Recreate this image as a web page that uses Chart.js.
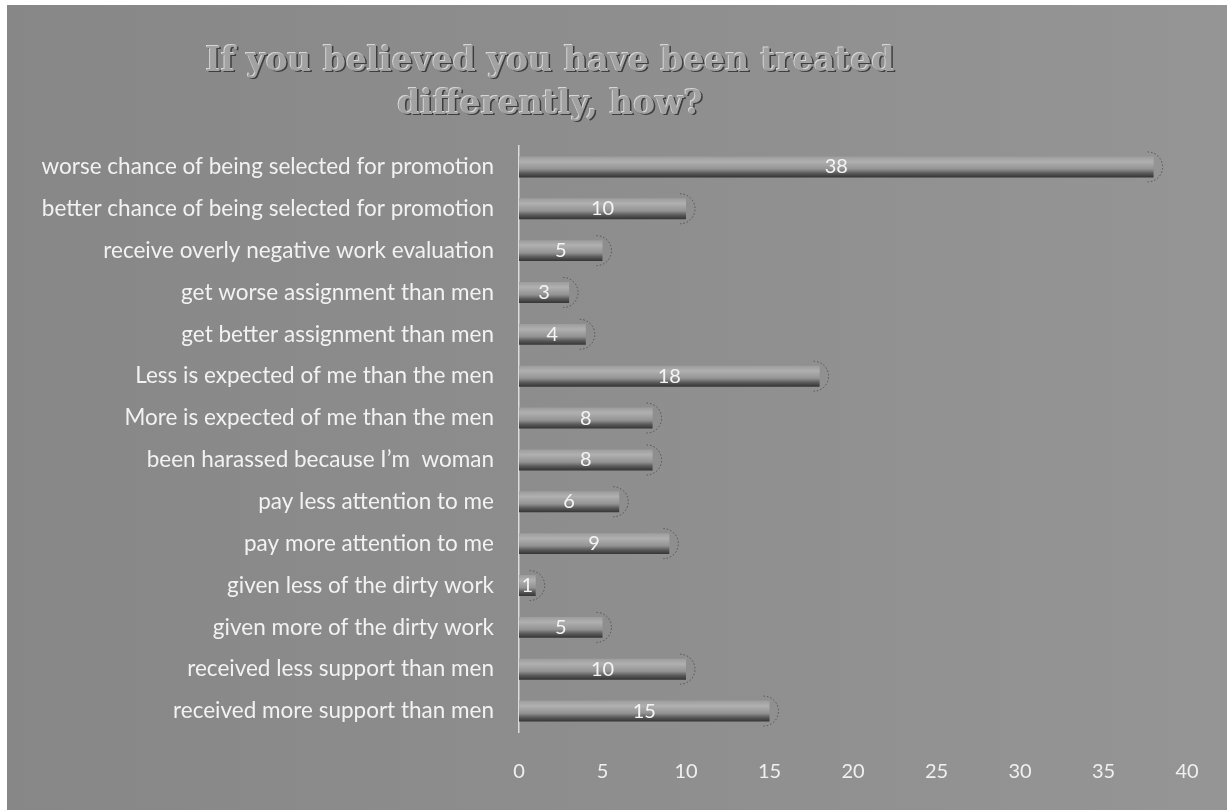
<!DOCTYPE html>
<html>
<head>
<meta charset="utf-8">
<script src="https://cdn.jsdelivr.net/npm/chart.js@4"></script>
<style>
  html, body { margin: 0; padding: 0; background: #fff; }
  #wrap { width: 1227px; height: 810px; position: relative; }
</style>
</head>
<body>
<div id="wrap"><canvas id="chart" width="1227" height="810"></canvas></div>
<script>
// chart values
const categories = [
  'worse chance of being selected for promotion',
  'better chance of being selected for promotion',
  'receive overly negative work evaluation',
  'get worse assignment than men',
  'get better assignment than men',
  'Less is expected of me than the men',
  'More is expected of me than the men',
  'been harassed because I\u2019m  woman',
  'pay less attention to me',
  'pay more attention to me',
  'given less of the dirty work',
  'given more of the dirty work',
  'received less support than men',
  'received more support than men'
]
const counts = [38, 10, 5, 3, 4, 18, 8, 8, 6, 9, 1, 5, 10, 15]
const titleLines = ['If you believed you have been treated', 'differently, how?']
const xTicks = [0, 5, 10, 15, 20, 25, 30, 35, 40]

const labelFont = { family: 'Lato', size: 22.5 }

// gray card with a thin white edge like the scan
const backdrop = {
  id: 'backdrop',
  beforeDraw(chart) {
    const { ctx, width, height } = chart
    ctx.save()
    ctx.fillStyle = '#ffffff'
    ctx.fillRect(0, 0, width, height)
    const g = ctx.createLinearGradient(7, 0, width, 0)
    g.addColorStop(0, '#878787')
    g.addColorStop(1, '#959595')
    ctx.fillStyle = g
    ctx.fillRect(7, 5, width - 7, height - 5)
    ctx.restore()
  }
}

// embossed two-line title, sized so the first line spans ~690px
const embossTitle = {
  id: 'embossTitle',
  afterDraw(chart) {
    const ctx = chart.ctx
    ctx.save()
    ctx.font = 'bold 30px "DejaVu Serif"'
    const w = ctx.measureText(titleLines[0]).width
    const size = 30 * 690 / w
    ctx.font = 'bold ' + size.toFixed(1) + 'px "DejaVu Serif"'
    ctx.textAlign = 'center'
    ctx.textBaseline = 'middle'
    const cx = 550
    titleLines.forEach((line, i) => {
      const y = 62 + i * 43
      ctx.fillStyle = '#3e3e3e'
      ctx.fillText(line, cx + 1.5, y + 1.5)
      ctx.fillStyle = '#d6d6d6'
      ctx.fillText(line, cx - 1, y - 1)
      ctx.fillStyle = '#a2a2a2'
      ctx.fillText(line, cx, y)
    })
    ctx.restore()
  }
}

// value inside each bar + dotted end cap
const barValues = {
  id: 'barValues',
  afterDatasetsDraw(chart) {
    const ctx = chart.ctx
    const meta = chart.getDatasetMeta(0)
    ctx.save()
    ctx.strokeStyle = 'rgba(60,60,60,0.7)'
    ctx.lineWidth = 1
    ctx.setLineDash([1.5, 2])
    meta.data.forEach(bar => {
      ctx.beginPath()
      ctx.arc(bar.x - 6, bar.y, 15, -Math.PI / 2, Math.PI / 2)
      ctx.stroke()
    })
    ctx.setLineDash([])
    ctx.font = '20px Lato'
    ctx.fillStyle = '#f4f4f4'
    ctx.textAlign = 'center'
    ctx.textBaseline = 'middle'
    meta.data.forEach((bar, i) => {
      const x = (bar.base + bar.x) / 2
      ctx.fillText(String(counts[i]), x, bar.y)
    })
    ctx.restore()
  }
}

// cylinder-ish shading: light top, dark bottom edge
function barShade(c) {
  const chart = c.chart
  const yScale = chart.scales.y
  if (!chart.chartArea || !yScale || c.dataIndex === undefined) return '#9a9a9a'
  const cy = yScale.getPixelForValue(c.dataIndex)
  const half = 10.5
  const g = chart.ctx.createLinearGradient(0, cy - half, 0, cy + half)
  g.addColorStop(0, '#9c9c9c')
  g.addColorStop(0.25, '#b0b0b0')
  g.addColorStop(0.6, '#939393')
  g.addColorStop(0.8, '#5a5a5a')
  g.addColorStop(1, '#333333')
  return g
}

new Chart(document.getElementById('chart'), {
  type: 'bar',
  data: {
    labels: categories,
    datasets: [{
      data: counts,
      backgroundColor: barShade,
      borderWidth: 0,
      barPercentage: 0.5,
      categoryPercentage: 1
    }]
  },
  options: {
    indexAxis: 'y',
    responsive: false,
    animation: false,
    layout: { padding: { top: 146, right: 40, left: 0, bottom: 0 } },
    plugins: {
      legend: { display: false },
      tooltip: { enabled: false }
    },
    scales: {
      x: {
        min: 0,
        max: 40,
        afterBuildTicks(scale) {
          scale.ticks = xTicks.map(v => ({ value: v }))
        },
        afterFit(scale) { scale.height = 78 },
        grid: { display: false, drawTicks: false },
        border: { display: false },
        ticks: { color: '#f0f0f0', font: { family: 'Lato', size: 20 }, padding: 28 }
      },
      y: {
        afterFit(scale) { scale.width = 519 },
        grid: { display: false, drawTicks: false },
        border: { display: true, color: '#dcdcdc', width: 1.5 },
        ticks: { color: '#f2f2f2', font: labelFont, padding: 25, autoSkip: false }
      }
    }
  },
  plugins: [backdrop, embossTitle, barValues]
})
</script>
</body>
</html>
